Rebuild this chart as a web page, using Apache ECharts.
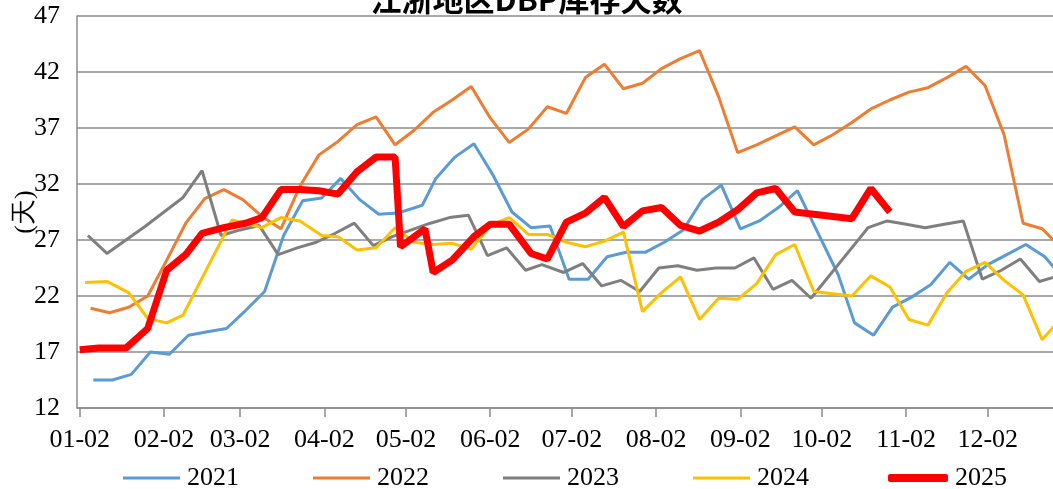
<!DOCTYPE html>
<html><head><meta charset="utf-8">
<script src="https://cdn.jsdelivr.net/npm/echarts@6/dist/echarts.min.js"></script>
<style>html,body{margin:0;padding:0;background:#fff}#c{width:1053px;height:489px}</style>
</head><body><div id="c"></div>
<script>
const title = '江浙地区DBP库存天数';
const yName = '(天)';
const tickLabels = ['01-02','02-02','03-02','04-02','05-02','06-02','07-02','08-02','09-02','10-02','11-02','12-02'];
const seriesNames = ['2021','2022','2023','2024','2025'];

const dates2021 = ['01-07','01-14','01-21','01-28','02-04','02-11','02-18','02-25','03-04','03-11','03-18','03-25','04-01','04-08','04-15','04-22','04-29','05-08','05-13','05-20','05-27','06-03','06-10','06-17','06-24','07-01','07-08','07-15','07-22','07-29','08-05','08-12','08-19','08-26','09-02','09-09','09-16','09-23','09-30','10-08','10-14','10-21','10-28','11-04','11-11','11-18','11-25','12-02','12-09','12-16','12-23','12-30'];
const values2021 = [14.5,14.5,15.0,17.0,16.8,18.5,18.8,19.1,20.7,22.4,27.4,30.5,30.75,32.5,30.6,29.3,29.4,30.1,32.5,34.4,35.6,32.8,29.5,28.1,28.25,23.5,23.5,25.5,25.9,25.9,26.8,27.9,30.6,31.9,28.0,28.7,29.9,31.4,27.9,23.9,19.6,18.5,21.0,21.9,23.0,25.0,23.5,24.8,25.7,26.6,25.5,23.5];

const dates2022 = ['01-06','01-13','01-20','01-27','02-03','02-10','02-17','02-24','03-03','03-10','03-17','03-24','03-31','04-07','04-14','04-21','04-28','05-05','05-12','05-19','05-26','06-02','06-09','06-16','06-23','06-30','07-07','07-14','07-21','07-28','08-04','08-11','08-18','08-25','09-01','09-08','09-15','09-22','09-29','10-06','10-13','10-20','10-27','11-03','11-10','11-17','11-24','12-01','12-08','12-15','12-22','12-29'];
const values2022 = [20.9,20.5,21.0,22.0,25.2,28.5,30.7,31.5,30.6,29.1,28.0,31.8,34.6,35.8,37.3,38.0,35.5,36.8,38.4,39.5,40.7,37.9,35.7,36.9,38.9,38.3,41.5,42.7,40.5,41.0,42.3,43.2,43.9,39.8,34.8,35.5,36.3,37.1,35.5,36.4,37.5,38.7,39.5,40.2,40.6,41.5,42.5,40.8,36.4,28.5,28.0,26.3];

const dates2023 = ['01-05','01-12','01-19','01-26','02-02','02-09','02-16','02-23','03-02','03-09','03-16','03-23','03-30','04-06','04-13','04-20','04-27','05-04','05-11','05-18','05-25','06-01','06-08','06-15','06-21','06-29','07-06','07-13','07-20','07-27','08-03','08-10','08-17','08-24','08-31','09-07','09-14','09-21','09-28','10-19','10-26','11-02','11-09','11-16','11-23','11-30','12-07','12-14','12-21','12-28'];
const values2023 = [27.4,25.8,27.0,28.2,29.5,30.8,33.2,27.4,27.9,28.3,25.7,26.3,26.8,27.6,28.5,26.5,27.3,27.9,28.5,29.0,29.2,25.6,26.3,24.3,24.8,24.1,24.9,22.9,23.4,22.4,24.5,24.7,24.3,24.5,24.5,25.4,22.6,23.4,21.8,28.1,28.7,28.4,28.1,28.4,28.7,23.5,24.3,25.3,23.3,23.8];

const dates2024 = ['01-04','01-12','01-20','01-27','02-03','02-09','02-27','03-10','03-17','03-24','04-01','04-07','04-14','04-21','04-28','05-05','05-12','05-19','05-26','06-02','06-09','06-16','06-23','06-30','07-07','07-14','07-21','07-28','08-04','08-11','08-18','08-25','09-01','09-08','09-15','09-22','09-29','10-13','10-20','10-27','11-03','11-10','11-17','11-24','12-01','12-08','12-15','12-22','12-29'];
const values2024 = [23.2,23.3,22.3,20.0,19.6,20.3,28.8,28.1,29.0,28.7,27.4,27.3,26.1,26.3,28.1,26.8,26.6,26.7,26.2,28.3,29.0,27.5,27.5,26.8,26.4,26.9,27.7,20.6,22.3,23.7,19.9,21.8,21.7,23.1,25.7,26.6,22.4,22.0,23.8,22.8,19.9,19.4,22.3,24.2,25.0,23.4,22.1,18.1,20.0];

const dates2025 = ['01-02','01-09','01-19','01-27','02-03','02-10','02-16','02-24','03-04','03-10','03-17','03-24','03-31','04-07','04-14','04-21','04-28','04-30','05-09','05-12','05-19','05-27','06-02','06-09','06-17','06-23','06-30','07-07','07-14','07-21','07-28','08-04','08-11','08-18','08-25','09-01','09-08','09-15','09-22','10-13','10-20','10-27'];
const values2025 = [17.2,17.35,17.35,19.1,24.3,25.7,27.6,28.1,28.5,29.0,31.5,31.5,31.4,31.1,33.1,34.4,34.4,26.4,28.0,24.1,25.2,27.3,28.4,28.4,25.8,25.3,28.6,29.4,30.8,28.2,29.6,29.9,28.3,27.8,28.6,29.7,31.2,31.6,29.5,28.9,31.6,29.5];

const colors = ['#5B9BD5','#ED7D31','#7F7F7F','#FFC000','#FF0000'];
const widths = [3,3,3,3,7];

function doy(s){const [m,d]=s.split('-').map(Number);return (Date.UTC(2025,m-1,d)-Date.UTC(2025,0,1))/86400000+1;}
const tickPos = tickLabels.map(doy);
const allDates=[dates2021,dates2022,dates2023,dates2024,dates2025];
const allVals=[values2021,values2022,values2023,values2024,values2025];
const FONT='Liberation Serif';

const chart = echarts.init(document.getElementById('c'));
chart.setOption({
  animation:false,
  title:{text:title,left:'center',top:-21,textStyle:{fontSize:31,fontWeight:'bold',color:'#000',fontFamily:'Noto Sans CJK SC'}},
  grid:{left:77,right:0,top:16,bottom:81,containLabel:false,outerBoundsMode:'none'},
  legend:[
    {left:123,top:465,itemGap:74,itemWidth:57,itemHeight:3,icon:'rect',padding:0,
     textStyle:{fontSize:26,fontFamily:FONT,color:'#000',padding:[0,0,0,2]},
     data:seriesNames.slice(0,4)},
    {left:888,top:465,itemWidth:60,itemHeight:8,icon:'roundRect',padding:0,
     textStyle:{fontSize:26,fontFamily:FONT,color:'#000',padding:[0,0,0,2]},
     data:seriesNames.slice(4)}
  ],
  xAxis:{type:'value',min:1,max:360,
    axisLine:{lineStyle:{color:'#8c8c8c',width:1.5}},
    axisTick:{show:true,customValues:tickPos,length:9,lineStyle:{color:'#8c8c8c',width:1.5}},
    axisLabel:{customValues:tickPos,formatter:v=>tickLabels[tickPos.indexOf(v)]||'',fontSize:26,fontFamily:FONT,color:'#000',margin:19},
    splitLine:{show:false}},
  yAxis:{type:'value',min:12,max:47,interval:5,name:yName,nameLocation:'middle',nameGap:39,nameRotate:90,nameMoveOverlap:false,
    nameTextStyle:{fontSize:26,fontFamily:FONT,color:'#000'},
    axisLine:{show:true,lineStyle:{color:'#8c8c8c',width:1.5}},
    axisTick:{show:false},
    axisLabel:{fontSize:26,fontFamily:FONT,color:'#000',margin:17},
    splitLine:{lineStyle:{color:'#8c8c8c',width:1.5}}},
  series:seriesNames.map((n,i)=>({name:n,type:'line',showSymbol:false,symbol:'none',
    color:colors[i],lineStyle:{width:widths[i],color:colors[i]},z:i===4?5:2,
    data:allDates[i].map((d,j)=>[doy(d),allVals[i][j]])}))
});
</script></body></html>
